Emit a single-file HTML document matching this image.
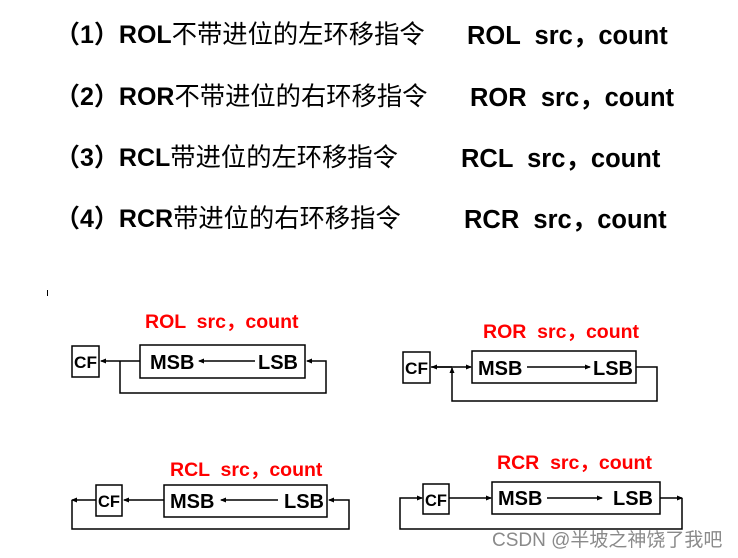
<!DOCTYPE html>
<html><head><meta charset="utf-8"><style>
html,body{margin:0;padding:0;background:#fff;}
body{width:738px;height:558px;overflow:hidden;position:relative;}
.t{position:absolute;font-family:"Liberation Sans","Noto Sans CJK SC",sans-serif;font-size:25.3px;color:#000;white-space:pre;line-height:1;}
.t b{font-weight:bold;font-size:25px}
.r{position:absolute;font-family:"Liberation Sans","Noto Sans CJK SC",sans-serif;font-size:25.5px;font-weight:bold;color:#000;white-space:pre;line-height:1;}
</style></head><body>
<div class="t" style="left:55px;top:23px"><b>（1）ROL</b>不带进位的左环移指令</div>
<div class="r" style="left:467px;top:24px">ROL  src，count</div>
<div class="t" style="left:55px;top:85px"><b>（2）ROR</b>不带进位的右环移指令</div>
<div class="r" style="left:470px;top:86px">ROR  src，count</div>
<div class="t" style="left:55px;top:146px"><b>（3）RCL</b>带进位的左环移指令</div>
<div class="r" style="left:461px;top:147px">RCL  src，count</div>
<div class="t" style="left:55px;top:207px"><b>（4）RCR</b>带进位的右环移指令</div>
<div class="r" style="left:464px;top:208px">RCR  src，count</div>

<svg width="738" height="558" style="position:absolute;left:0;top:0" font-family="Liberation Sans, sans-serif" font-weight="bold">
<defs><marker id="a" markerWidth="6" markerHeight="6" refX="5" refY="3" orient="auto" markerUnits="userSpaceOnUse"><path d="M0,0.5 L6,3 L0,5.5z" fill="#000"/></marker></defs>
<line x1="47.5" y1="290" x2="47.5" y2="296" stroke="#000"/>
<g fill="none" stroke="#000" stroke-width="1.5">
<rect x="72" y="346" width="27" height="31"/>
<rect x="140" y="345" width="165" height="33"/>
<line x1="140" y1="361" x2="101" y2="361" marker-end="url(#a)"/>
<line x1="255" y1="361" x2="199" y2="361" marker-end="url(#a)"/>
<polyline points="120,361 120,393 326,393 326,361 307,361" marker-end="url(#a)"/>
<rect x="403" y="352" width="27" height="31"/>
<rect x="472" y="351" width="164" height="32"/>
<line x1="431" y1="367" x2="471" y2="367" marker-end="url(#a)"/>
<line x1="452" y1="367" x2="432" y2="367" marker-end="url(#a)"/>
<line x1="527" y1="367" x2="590" y2="367" marker-end="url(#a)"/>
<polyline points="636,367 657,367 657,401 452,401 452,368" marker-end="url(#a)"/>
<rect x="96" y="485" width="26" height="31"/>
<rect x="164" y="485" width="163" height="32"/>
<polyline points="96,500 72,500" marker-end="url(#a)"/>
<polyline points="72,500 72,529 349,529 349,500 329,500" marker-end="url(#a)"/>
<line x1="164" y1="500" x2="124" y2="500" marker-end="url(#a)"/>
<line x1="278" y1="500" x2="221" y2="500" marker-end="url(#a)"/>
<rect x="423" y="484" width="26" height="30"/>
<rect x="492" y="482" width="168" height="32"/>
<polyline points="682,498 682,529 400,529 400,498 422,498" marker-end="url(#a)"/>
<line x1="449" y1="498" x2="491" y2="498" marker-end="url(#a)"/>
<line x1="547" y1="498" x2="602" y2="498" marker-end="url(#a)"/>
<line x1="660" y1="498" x2="682" y2="498" marker-end="url(#a)"/>
</g>
<g font-size="17" fill="#000">
<text x="74" y="368" textLength="23" lengthAdjust="spacingAndGlyphs">CF</text><text x="405" y="374" textLength="23" lengthAdjust="spacingAndGlyphs">CF</text>
<text x="98" y="507" textLength="22" lengthAdjust="spacingAndGlyphs">CF</text><text x="425" y="506" textLength="22" lengthAdjust="spacingAndGlyphs">CF</text>
</g>
<g font-size="20" fill="#000">
<text x="150" y="369">MSB</text><text x="258" y="369">LSB</text>
<text x="478" y="375">MSB</text><text x="593" y="375">LSB</text>
<text x="170" y="508">MSB</text><text x="284" y="508">LSB</text>
<text x="498" y="505">MSB</text><text x="613" y="505">LSB</text>
</g>
<g font-size="19.5" fill="#f00" font-family="Liberation Sans, Noto Sans CJK SC, sans-serif">
<text x="145" y="328" xml:space="preserve">ROL  src，count</text>
<text x="483" y="338" xml:space="preserve">ROR  src，count</text>
<text x="170" y="476" xml:space="preserve">RCL  src，count</text>
<text x="497" y="469" xml:space="preserve">RCR  src，count</text>
</g>
<text x="492" y="546" font-size="19" font-weight="normal" fill="#8a8a8a" font-family="Liberation Sans, Noto Sans CJK SC, sans-serif">CSDN @半坡之神饶了我吧</text>
</svg>
</body></html>
